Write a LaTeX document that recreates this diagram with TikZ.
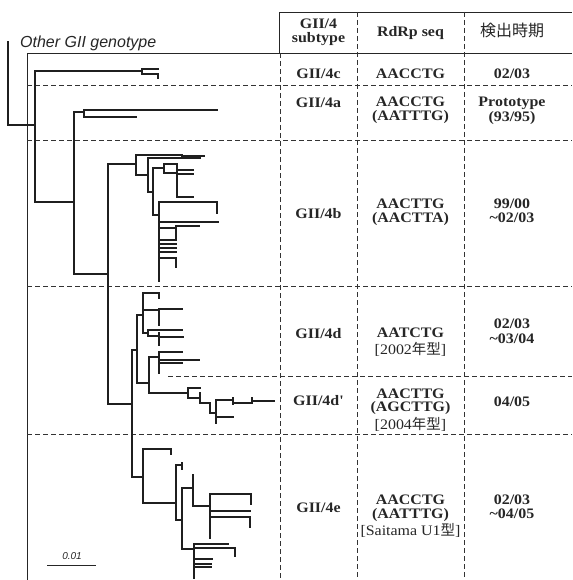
\documentclass[tikz,border=0pt]{standalone}
\usepackage{fontspec}
\setmainfont{Liberation Serif}
\setsansfont{Liberation Sans}
\newfontfamily\cjk{Noto Sans CJK JP}
\newfontfamily\tabfont[FakeStretch=1.1]{Liberation Serif}
\begin{document}
\begin{tikzpicture}[x=1pt,y=-1pt,
  br/.style={line width=1.2pt, line cap=rect, draw=black!88},
  framel/.style={line width=0.9pt, draw=black!85},
  gridl/.style={line width=0.8pt, draw=black!80, dash pattern=on 5pt off 3pt},
  cell/.style={font=\tabfont\fontsize{14.5}{14.5}\selectfont\bfseries, inner sep=0pt, anchor=base, text=black!85},
  note/.style={font=\tabfont\fontsize{14.5}{14.5}\selectfont, inner sep=0pt, anchor=base, text=black!85},
  jp/.style={font=\fontsize{16}{16}\selectfont\cjk, inner sep=0pt, anchor=base, text=black!85},
  lab/.style={inner sep=0pt, anchor=base, text=black!85}]
\useasboundingbox (0,0) rectangle (572,580);
% table frame and grid
\draw[framel] (27,580) -- (27,53) -- (572,53);
\draw[framel] (279,53) -- (279,12) -- (572,12);
\draw[gridl] (280,53) -- (280,580);
\draw[gridl] (357,12) -- (357,580);
\draw[gridl] (464,12) -- (464,580);
\draw[gridl] (27,85) -- (572,85);
\draw[gridl] (27,140) -- (572,140);
\draw[gridl] (27,286) -- (572,286);
\draw[gridl] (168,376) -- (572,376);
\draw[gridl] (27,434) -- (572,434);
% header
\node[cell] (hA) at (318.5,29) {GII/4};
\node[cell] (hB) at (318.5,43) {subtype};
\node[cell] (hC) at (410.5,37) {RdRp seq};
\node[jp] (hD) at (512,37) {検出時期};
% row 4c
\node[cell] (c1) at (318.5,79) {GII/4c};
\node[cell] (c2) at (410.5,79) {AACCTG};
\node[cell] (c3) at (512,79) {02/03};
% row 4a
\node[cell] (a1) at (318.5,108) {GII/4a};
\node[cell] (a2) at (410.5,107) {AACCTG};
\node[cell] (a3) at (410.5,121) {(AATTTG)};
\node[cell] (a4) at (512,107) {Prototype};
\node[cell] (a5) at (512,122) {(93/95)};
% row 4b
\node[cell] (b1) at (318.5,218) {GII/4b};
\node[cell] (b2) at (410.5,208) {AACTTG};
\node[cell] (b3) at (410.5,222) {(AACTTA)};
\node[cell] (b4) at (512,208) {99/00};
\node[cell] (b5) at (512,222) {\textasciitilde02/03};
% row 4d
\node[cell] (d1) at (318.5,338) {GII/4d};
\node[cell] (d2) at (410.5,337) {AATCTG};
\node[note] (d3) at (410.5,354) {[2002{\cjk 年型}]};
\node[cell] (d4) at (512,328) {02/03};
\node[cell] (d5) at (512,343) {\textasciitilde03/04};
% row 4d'
\node[cell] (p1) at (318.5,405) {GII/4d'};
\node[cell] (p2) at (410.5,398) {AACTTG};
\node[cell] (p3) at (410.5,411) {(AGCTTG)};
\node[note] (p4) at (410.5,429) {[2004{\cjk 年型}]};
\node[cell] (p5) at (512,406) {04/05};
% row 4e
\node[cell] (e1) at (318.5,512) {GII/4e};
\node[cell] (e2) at (410.5,504) {AACCTG};
\node[cell] (e3) at (410.5,518) {(AATTTG)};
\node[note] (e4) at (410.5,535) {[Saitama U1{\cjk 型}]};
\node[cell] (e5) at (512,504) {02/03};
\node[cell] (e6) at (512,518) {\textasciitilde04/05};
% labels
\node[lab, anchor=base west, font=\sffamily\itshape\fontsize{16}{16}\selectfont] (og) at (20,48) {Other GII genotype};
\node[lab, font=\sffamily\itshape\fontsize{10}{10}\selectfont] (sc) at (72,559) {0.01};
\coordinate (scL) at (47,565);
\coordinate (scR) at (96,565);
\draw[line width=1pt, draw=black!85] (scL) -- (scR);
% tree: root
\draw[br] (8,42) -- (8,125) -- (35,125);
\draw[br] (35,71) -- (35,202);
% 4c
\draw[br] (35,71) -- (142,71);
\draw[br] (142,69) -- (142,74);
\draw[br] (142,69) -- (158,69);
\draw[br] (142,74) -- (158,74) -- (158,78);
% 4a
\draw[br] (35,202) -- (74,202);
\draw[br] (74,112) -- (74,274);
\draw[br] (74,112) -- (84,112);
\draw[br] (84,110) -- (84,117);
\draw[br] (84,110) -- (217,110);
\draw[br] (84,117) -- (136,117);
% 4b
\draw[br] (74,274) -- (108,274);
\draw[br] (108,164) -- (108,404);
\draw[br] (108,164) -- (136,164);
\draw[br] (136,155) -- (136,175);
\draw[br] (136,155) -- (182,155);
\draw[br] (182,155) -- (182,157);
\draw[br] (182,156) -- (204,156);
\draw[br] (148,158) -- (200,158);
\draw[br] (136,175) -- (148,175);
\draw[br] (148,158) -- (148,192);
\draw[br] (148,192) -- (153,192);
\draw[br] (153,168) -- (153,215);
\draw[br] (153,168) -- (164,168);
\draw[br] (164,164) -- (164,173);
\draw[br] (164,164) -- (177,164);
\draw[br] (164,173) -- (177,173);
\draw[br] (177,164) -- (177,197);
\draw[br] (177,170) -- (193,170);
\draw[br] (177,174) -- (193,174);
\draw[br] (177,197) -- (193,197);
\draw[br] (153,215) -- (159,215);
\draw[br] (159,202) -- (159,281);
\draw[br] (159,202) -- (217,202) -- (217,213);
\draw[br] (159,222) -- (218,222);
\draw[br] (159,228) -- (176,228);
\draw[br] (176,226) -- (176,240);
\draw[br] (176,226) -- (199,226);
\draw[br] (159,240) -- (176,240);
\draw[br] (159,244) -- (176,244);
\draw[br] (159,248) -- (176,248);
\draw[br] (159,252) -- (176,252);
\draw[br] (159,258) -- (176,258) -- (176,267);
% 4d
\draw[br] (108,404) -- (132,404);
\draw[br] (132,350) -- (132,477);
\draw[br] (132,350) -- (137,350);
\draw[br] (137,315) -- (137,383);
\draw[br] (137,315) -- (143,315);
\draw[br] (143,293) -- (143,333);
\draw[br] (143,293) -- (159,293) -- (159,298);
\draw[br] (143,310) -- (159,310);
\draw[br] (159,309) -- (159,325);
\draw[br] (159,309) -- (182,309);
\draw[br] (143,333) -- (148,333);
\draw[br] (148,330) -- (148,336);
\draw[br] (148,330) -- (182,330);
\draw[br] (148,336) -- (159,336);
\draw[br] (159,333) -- (159,345);
\draw[br] (159,337) -- (183,337);
\draw[br] (137,383) -- (149,383);
\draw[br] (149,357) -- (149,393);
\draw[br] (149,357) -- (159,357);
\draw[br] (159,352) -- (159,373);
\draw[br] (159,352) -- (182,352);
\draw[br] (159,360) -- (199,360);
\draw[br] (159,363) -- (182,363);
% 4d'
\draw[br] (149,393) -- (188,393);
\draw[br] (188,388) -- (188,398);
\draw[br] (188,388) -- (200,388);
\draw[br] (188,398) -- (200,398);
\draw[br] (200,393) -- (200,403);
\draw[br] (200,403) -- (210,403);
\draw[br] (210,403) -- (210,413);
\draw[br] (210,413) -- (216,413);
\draw[br] (216,400) -- (216,423);
\draw[br] (216,400) -- (233,400);
\draw[br] (233,398) -- (233,404);
\draw[br] (233,403) -- (252,403);
\draw[br] (252,398) -- (252,403);
\draw[br] (252,401) -- (274,401);
\draw[br] (216,417) -- (233,417);
% 4e
\draw[br] (132,477) -- (143,477);
\draw[br] (143,449) -- (143,503);
\draw[br] (143,449) -- (171,449) -- (171,454);
\draw[br] (143,503) -- (176,503);
\draw[br] (176,465) -- (176,520);
\draw[br] (176,465) -- (182,465);
\draw[br] (182,463) -- (182,469);
\draw[br] (176,520) -- (182,520);
\draw[br] (182,488) -- (182,549);
\draw[br] (182,488) -- (193,488);
\draw[br] (193,475) -- (193,506);
\draw[br] (193,506) -- (210,506);
\draw[br] (210,494) -- (210,538);
\draw[br] (210,494) -- (251,494) -- (251,504);
\draw[br] (210,511) -- (250,511);
\draw[br] (210,517) -- (250,517) -- (250,527);
\draw[br] (182,549) -- (194,549);
\draw[br] (194,544) -- (194,578);
\draw[br] (194,544) -- (228,544);
\draw[br] (194,548) -- (235,548) -- (235,556);
\draw[br] (194,559) -- (212,559);
\draw[br] (194,564) -- (211,564);
\draw[br] (194,567) -- (211,567);
\end{tikzpicture}
\end{document}
